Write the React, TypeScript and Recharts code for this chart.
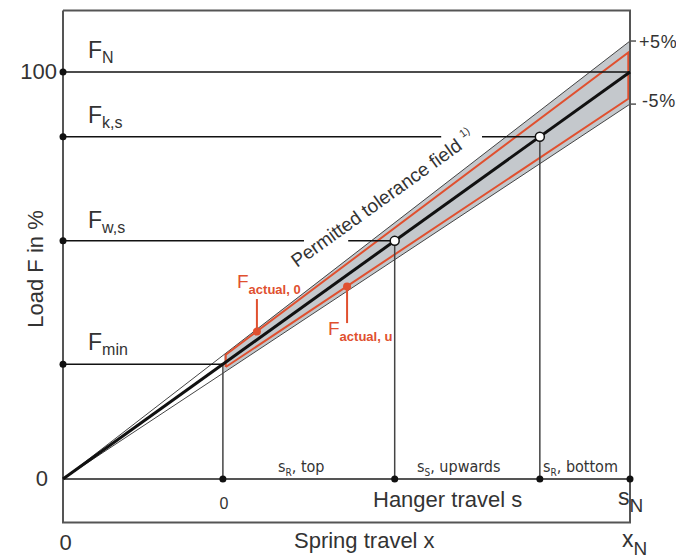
import React from 'react';
import { ComposedChart, Line, Area, XAxis, YAxis } from 'recharts';

// ---- data (in % of nominal load / % of spring travel x_N) ----
const yTicks = [0, 100];
const xTicks = [0];
const toleranceTicks = [107.6, 92.1];
const toleranceLabels: Record<string, string> = { '107.6': '+5%', '92.1': '-5%' };
const loadLevels = [100, 84.1, 58.5, 28.2]; // F_N, F_k,s, F_w,s, F_min
const pointsOnLine = [58.5, 84.1]; // F_w,s and F_k,s operating points
const hangerMarks = [28.2, 58.5, 84.1, 100]; // 0, s_S start, s_R bottom start, s_N
const mainLine = [{ x: 0, y: 0 }, { x: 100, y: 100 }];
const upperFan = [{ x: 0, y: 0 }, { x: 100, y: 107.6 }];
const lowerFan = [{ x: 0, y: 0 }, { x: 100, y: 92.1 }];
const bandData = [
  { x: 28.4, band: [26.2, 30.6] },
  { x: 100, band: [92.1, 107.6] },
];
const redBand = [
  { x: 28.7, y: 27.5 },
  { x: 28.7, y: 30.5 },
  { x: 99.7, y: 104.8 },
  { x: 99.7, y: 93.4 },
  { x: 28.7, y: 27.5 },
];
const frame = [
  { x: 0, y: 115.1 },
  { x: 100, y: 115.1 },
  { x: 100, y: -10.7 },
  { x: 0, y: -10.7 },
  { x: 0, y: 115.1 },
];
const hangerAxis = [{ x: 0, y: 0 }, { x: 100, y: 0 }];
const fN = [{ x: 0, y: 100 }, { x: 100, y: 100 }];
const fKs = [
  { x: 0, y: 84.1 },
  { x: 66.7, y: 84.1 },
  { x: 70, y: null },
  { x: 73.9, y: 84.1 },
  { x: 84.1, y: 84.1 },
];
const fWs = [
  { x: 0, y: 58.5 },
  { x: 42.5, y: 58.5 },
  { x: 46, y: null },
  { x: 50.3, y: 58.5 },
  { x: 58.5, y: 58.5 },
];
const fMin = [{ x: 0, y: 28.2 }, { x: 28.2, y: 28.2 }];
const vMin = [{ x: 28.2, y: 28.2 }, { x: 28.2, y: 0 }];
const vWs = [{ x: 58.5, y: 58.5 }, { x: 58.5, y: 0 }];
const vKs = [{ x: 84.1, y: 84.1 }, { x: 84.1, y: 0 }];
const actual0 = [{ x: 34.2, y: 36.2 }];
const actualU = [{ x: 50.1, y: 47.3 }];
const actual0Leader = [{ x: 34.2, y: 36.2 }, { x: 34.2, y: 44.2 }];
const actualULeader = [{ x: 50.1, y: 47.3 }, { x: 50.1, y: 38.3 }];

const leftDots = loadLevels.map((v) => ({ x: 0, y: v }));
const bottomDots = hangerMarks.map((v) => ({ x: v, y: 0 }));
const openDots = pointsOnLine.map((v) => ({ x: v, y: v }));

const W = 676;
const H = 550;
const FONT = '"Liberation Sans", Arial, Helvetica, sans-serif';
const NARROW = '"Liberation Sans Narrow", "DejaVu Sans Condensed", "Liberation Sans", sans-serif';
const TXT = '#333';
const RED = '#e0502f';
const GREY_LINE = '#555';

const YTick = (props: any) => {
  const { x, y, payload } = props;
  const v = payload.value;
  return (
    <text x={v === 0 ? x - 15 : x - 6} y={y + 7} textAnchor="end" fontSize={22} fontFamily={FONT} fill={TXT}>
      {v}
    </text>
  );
};

const RTick = (props: any) => {
  const { x, y, payload } = props;
  const v = payload.value;
  const plus = v > 100;
  return (
    <g>
      <line x1={x} x2={x + 6} y1={y} y2={y} stroke={GREY_LINE} strokeWidth={1.5} />
      <text x={plus ? x + 9 : x + 12} y={plus ? y + 7 : y + 2.5} fontSize={18} letterSpacing={0.6} fontFamily={FONT} fill={TXT}>
        {toleranceLabels[String(v)]}
      </text>
    </g>
  );
};

const XTick = (props: any) => {
  const { x, y, payload } = props;
  return (
    <text x={x + 2.5} y={y + 27.5} textAnchor="middle" fontSize={22} fontFamily={FONT} fill={TXT}>
      {payload.value}
    </text>
  );
};

const FLabel = ({ x, y, main, sub, size = 23, subSize = 16, dy = 5, color = TXT, weight }: any) => (
  <text x={x} y={y} fontSize={size} fontFamily={FONT} fill={color}>
    <tspan>{main}</tspan>
    <tspan fontSize={subSize} dy={dy} fontWeight={weight}>{sub}</tspan>
  </text>
);

const SegLabel = ({ x, y, sub, rest }: any) => (
  <text x={x} y={y} fontSize={16} fontFamily={NARROW} fill={TXT}>
    <tspan>s</tspan>
    <tspan fontSize={10} dy={4}>{sub}</tspan>
    <tspan dy={-4}>{rest}</tspan>
  </text>
);

const seg = (data: any[], stroke: string, width: number, yAxisId: any = 0) => (
  <Line
    data={data}
    dataKey="y"
    yAxisId={yAxisId}
    type="linear"
    stroke={stroke}
    strokeWidth={width}
    dot={false}
    activeDot={false}
    isAnimationActive={false}
    connectNulls={false}
  />
);

const dots = (data: any[], r: number, fill: string, stroke: string, sw: number) => (
  <Line
    data={data}
    dataKey="y"
    stroke="none"
    dot={{ r, fill, stroke, strokeWidth: sw }}
    activeDot={false}
    isAnimationActive={false}
  />
);

export default function App() {
  return (
    <div style={{ position: 'relative', width: W, height: H }}>
      <ComposedChart width={W} height={H} data={bandData} margin={{ top: 2.5, right: 0, left: 0, bottom: 0 }}>
        <XAxis
          dataKey="x"
          type="number"
          domain={[0, 100]}
          ticks={xTicks}
          axisLine={false}
          tickLine={false}
          tickSize={0}
          tickMargin={0}
          height={35.5}
          tick={XTick}
          interval={0}
        />
        <YAxis
          yAxisId={0}
          type="number"
          domain={[-10.7, 115.1]}
          ticks={yTicks}
          axisLine={false}
          tickLine={false}
          tickSize={0}
          tickMargin={0}
          width={55}
          tick={YTick}
          interval={0}
        />
        <YAxis
          yAxisId="r"
          orientation="right"
          type="number"
          domain={[-10.7, 115.1]}
          ticks={toleranceTicks}
          axisLine={false}
          tickLine={false}
          tickSize={0}
          tickMargin={0}
          width={54}
          tick={RTick}
          interval={0}
        />
        <Area dataKey="band" type="linear" fill="#c4c8cc" fillOpacity={1} stroke="none" isAnimationActive={false} activeDot={false} />
        {seg(upperFan, '#444', 1, 'r')}
        {seg(lowerFan, '#444', 1, 'r')}
        {seg(redBand, RED, 2)}
        {seg(frame, GREY_LINE, 2)}
        {seg(hangerAxis, GREY_LINE, 2)}
        {seg(vMin, '#444', 1.5)}
        {seg(vWs, '#444', 1.5)}
        {seg(vKs, '#444', 1.5)}
        {seg(fN, '#111', 1.5)}
        {seg(fKs, '#111', 1.5)}
        {seg(fWs, '#111', 1.5)}
        {seg(fMin, '#111', 1.5)}
        {seg(mainLine, '#111', 3)}
        {seg(actual0Leader, RED, 2)}
        {seg(actualULeader, RED, 2)}
        {dots(leftDots, 3.5, '#111', 'none', 0)}
        {dots(bottomDots, 3.5, '#111', 'none', 0)}
        {dots(openDots, 4.5, '#fff', '#111', 1.5)}
        {dots(actual0, 4, RED, 'none', 0)}
        {dots(actualU, 4, RED, 'none', 0)}
      </ComposedChart>
      <svg width={W} height={H} style={{ position: 'absolute', left: 0, top: 0, pointerEvents: 'none', overflow: 'visible' }}>
        <g transform="translate(-8,-8)">
          <FLabel x={88} y={58} main="F" sub="N" />
          <FLabel x={88} y={123} main="F" sub="k,s" />
          <FLabel x={88} y={228} main="F" sub="w,s" />
          <FLabel x={88} y={350} main="F" sub="min" />
          <FLabel x={237} y={288} main="F" sub="actual, 0" size={19} subSize={13} dy={6} color={RED} weight="bold" />
          <FLabel x={328} y={335} main="F" sub="actual, u" size={19} subSize={13} dy={6} color={RED} weight="bold" />
          <text x={224} y={509} textAnchor="middle" fontSize={16} fontFamily={FONT} fill={TXT}>0</text>
          <text x={373} y={507} fontSize={22} fontFamily={FONT} fill={TXT}>Hanger travel s</text>
          <FLabel x={618} y={505} main="s" sub="N" size={23} subSize={19} dy={7} />
          <text x={294} y={548} fontSize={22} fontFamily={FONT} fill={TXT}>Spring travel x</text>
          <FLabel x={622} y={547} main="x" sub="N" size={23} subSize={19} dy={8} />
          <text transform="translate(43,269) rotate(-90)" textAnchor="middle" fontSize={22} fontFamily={FONT} fill={TXT}>Load F in %</text>
          <SegLabel x={278} y={472} sub="R" rest=", top" />
          <SegLabel x={417} y={472} sub="S" rest=", upwards" />
          <SegLabel x={543} y={472} sub="R" rest=", bottom" />
          <text transform="translate(297,268) rotate(-35.7)" fontSize={19} fontFamily={FONT} fill={TXT}>
            <tspan>Permitted tolerance field </tspan>
            <tspan fontSize={11} dy={-9}>1)</tspan>
          </text>
        </g>
      </svg>
    </div>
  );
}
